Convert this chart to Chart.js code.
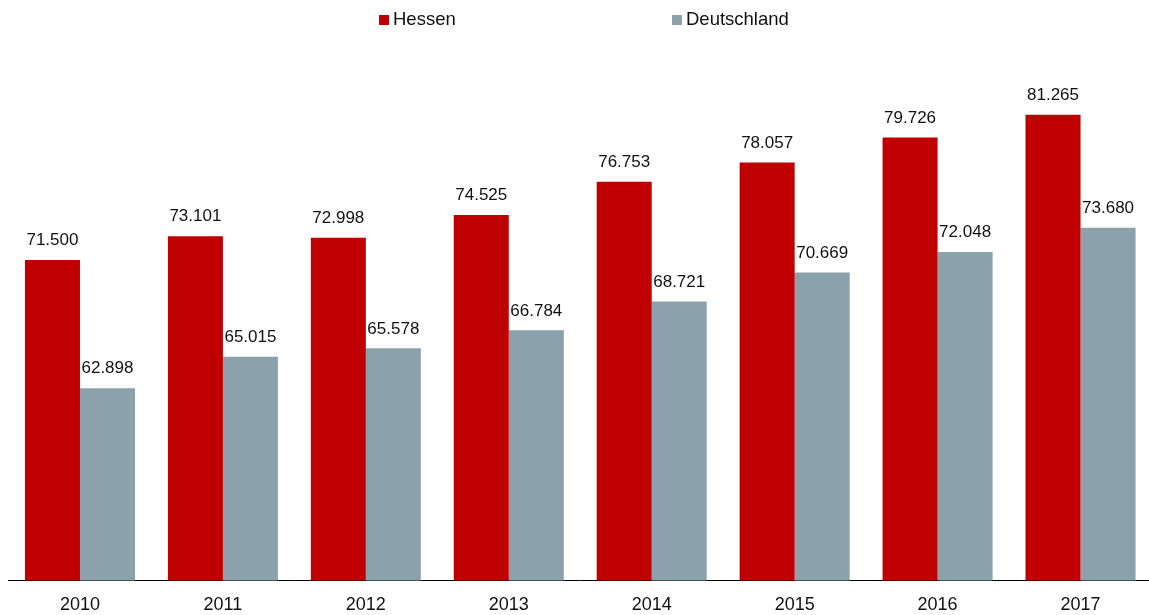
<!DOCTYPE html>
<html lang="de">
<head>
  <meta charset="UTF-8" />
  <title>Hessen – Deutschland</title>
  <script src="https://cdn.jsdelivr.net/npm/chart.js"></script>
  <style>
    html, body { margin: 0; padding: 0; background: #fff; overflow: hidden; }
    body { width: 1149px; height: 615px; position: relative; font-family: "Liberation Sans", Arial, sans-serif; }
    #chart { position: absolute; left: 0; top: 0; }
    .legend { position: absolute; top: 8px; font-size: 18.5px; color: #111; line-height: 22px; }
    .legend span.box { display: inline-block; width: 10px; height: 10px; margin-right: 4px; vertical-align: 0px; }
  </style>
</head>
<body>
  <canvas id="chart" width="1152" height="615"></canvas>
  <div class="legend" style="left:379px"><span class="box" style="background:#c00000"></span>Hessen</div>
  <div class="legend" style="left:672px"><span class="box" style="background:#8ba2ad"></span>Deutschland</div>

  <script>
    const jahre = ['2010', '2011', '2012', '2013', '2014', '2015', '2016', '2017'];
    const hessen = [71500, 73101, 72998, 74525, 76753, 78057, 79726, 81265];
    const deutschland = [62898, 65015, 65578, 66784, 68721, 70669, 72048, 73680];

    // Zahlen mit Punkt als Tausendertrennzeichen
    function format(v) {
      return String(v).replace(/\B(?=(\d{3})+(?!\d))/g, '.');
    }

    const werteOben = {
      id: 'werteOben',
      afterDatasetsDraw(chart) {
        const ctx = chart.ctx;
        ctx.save();
        ctx.font = '17px "Liberation Sans", Arial, sans-serif';
        ctx.fillStyle = '#111';
        ctx.textAlign = 'center';
        ctx.textBaseline = 'bottom';
        chart.data.datasets.forEach((ds, i) => {
          chart.getDatasetMeta(i).data.forEach((bar, j) => {
            ctx.fillText(format(ds.data[j]), bar.x, bar.y - 11);
          });
        });
        ctx.restore();
      }
    };

    const ctx = document.getElementById('chart').getContext('2d');
    new Chart(ctx, {
      type: 'bar',
      data: {
        labels: jahre,
        datasets: [
          { label: 'Hessen', data: hessen, backgroundColor: '#c00000' },
          { label: 'Deutschland', data: deutschland, backgroundColor: '#8ba2ad' }
        ]
      },
      options: {
        responsive: false,
        animation: false,
        categoryPercentage: 0.77,
        barPercentage: 1.0,
        layout: { padding: { left: 8.5, top: 59, right: 0, bottom: -15 } },
        scales: {
          y: { display: false, min: 50000, max: 85000 },
          x: {
            grid: { display: false, drawTicks: false },
            border: { display: true, color: '#000', width: 1 },
            ticks: {
              color: '#111',
              padding: 14,
              font: { family: '"Liberation Sans", Arial, sans-serif', size: 18 }
            }
          }
        },
        plugins: {
          legend: { display: false },
          tooltip: { enabled: false }
        }
      },
      plugins: [werteOben]
    });
  </script>
</body>
</html>
